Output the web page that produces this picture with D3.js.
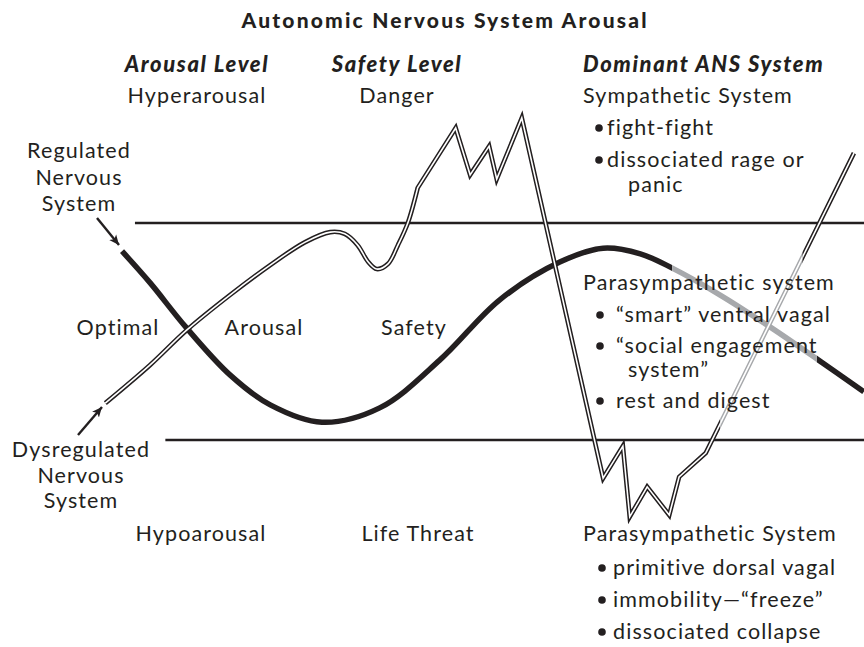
<!DOCTYPE html>
<html><head><meta charset="utf-8">
<script src="https://cdn.jsdelivr.net/npm/d3@7"></script>
<style>body{margin:0;background:#fff}svg{display:block}text{font-family:Lato,"Open Sans",sans-serif;fill:#231f20}</style>
</head><body>
<svg id="c" width="864" height="647"></svg>
<script>
// ---- data (x: time 0-100, y: arousal 0-100; window of tolerance 25-75) ----
const thresholds = [25, 75];
const regulated = [[2.9,68.5],[6.6,61.2],[11.3,51.0],[17.1,40.0],[22.4,33.1],[29.2,29.1],[36.8,32.4],[44.7,43.4],[52.6,57.3],[60.5,66.0],[66.2,69.2],[71.1,67.9],[75.3,64.6],[81.6,58.4],[88.2,51.0],[94.3,43.7],[100.5,36.1]];
const dysregSmooth = [[0.7,33.5],[6.6,42.3],[11.4,50.3],[17.1,58.4],[22.4,65.3],[27.0,70.6],[30.3,72.9],[32.2,72.5],[33.9,69.9],[35.3,66.0],[36.4,64.4],[37.9,65.6],[39.2,69.9],[40.5,75.0],[41.8,83.1]];
const dysregJagged = [[41.8,83.1],[46.8,96.9],[48.7,86.1],[51.2,92.7],[52.2,85.1],[55.5,99.2],[66.2,16.2],[68.8,23.6],[69.7,7.3],[72.0,14.2],[74.9,7.7],[76.2,16.5],[79.7,22.0],[99.2,91.1]];
const title = "Autonomic Nervous System Arousal";
const headers = ["Arousal Level", "Safety Level", "Dominant ANS System"];
const topRow = ["Hyperarousal", "Danger", "Sympathetic System"];
const midRow = ["Optimal", "Arousal", "Safety"];
const bottomRow = ["Hypoarousal", "Life Threat", "Parasympathetic System"];
const sympBullets = [["fight-fight"], ["dissociated rage or", "panic"]];
const ventralHead = "Parasympathetic system";
const ventralBullets = [["\u201csmart\u201d ventral vagal"], ["\u201csocial engagement", "system\u201d"], ["rest and digest"]];
const dorsalBullets = [["primitive dorsal vagal"], ["immobility\u2014\u201cfreeze\u201d"], ["dissociated collapse"]];
const regLabel = ["Regulated", "Nervous", "System"];
const dysLabel = ["Dysregulated", "Nervous", "System"];

// ---- drawing ----
const svg = d3.select("#c");
const W = 864;
const x = d3.scaleLinear().domain([0, 100]).range([100, 860]);
const y = d3.scaleLinear().domain([0, 100]).range([548.5, 114.5]);
const ink = "#231f20", gray = "#a7a9ac";

const defs = svg.append("defs");
function clipPair(id, x0, x1) {
  defs.append("clipPath").attr("id", id + "In").append("rect")
    .attr("x", x(x0)).attr("y", 0).attr("width", x(x1) - x(x0)).attr("height", 647);
  const o = defs.append("clipPath").attr("id", id + "Out");
  o.append("rect").attr("x", 0).attr("y", 0).attr("width", x(x0)).attr("height", 647);
  o.append("rect").attr("x", x(x1)).attr("y", 0).attr("width", W - x(x1)).attr("height", 647);
}
clipPair("reg", 75.3, 94.3);
clipPair("dys", 81.6, 92.4);
defs.append("marker").attr("id", "ah").attr("viewBox", "0 0 10 10").attr("refX", 10).attr("refY", 5)
  .attr("markerWidth", 10).attr("markerHeight", 10).attr("markerUnits", "userSpaceOnUse").attr("orient", "auto")
  .append("path").attr("d", "M0,0.5 L10,5 L0,9.5 L2.5,5 Z").attr("fill", ink);

// threshold lines
const thStart = [8.6, 4.6];
thresholds.forEach((t, i) => {
  svg.append("line").attr("x1", x(thStart[i])).attr("x2", W).attr("y1", y(t)).attr("y2", y(t))
    .attr("stroke", ink).attr("stroke-width", 2.6);
});

// regulated (thick) curve
const lineSmooth = d3.line().x(d => x(d[0])).y(d => y(d[1])).curve(d3.curveCatmullRom.alpha(0.5));
const lineStraight = d3.line().x(d => x(d[0])).y(d => y(d[1]));
const regD = lineSmooth(regulated);
svg.append("path").attr("d", regD).attr("fill", "none").attr("stroke", ink).attr("stroke-width", 5.5).attr("clip-path", "url(#regOut)");
svg.append("path").attr("d", regD).attr("fill", "none").attr("stroke", gray).attr("stroke-width", 5.5).attr("clip-path", "url(#regIn)");

// dysregulated (double) line
const dysD = lineSmooth(dysregSmooth) + lineStraight(dysregJagged).replace(/^M/, "L");
function dbl(color, clip) {
  const g = svg.append("g").attr("clip-path", `url(#${clip})`);
  g.append("path").attr("d", dysD).attr("fill", "none").attr("stroke", color).attr("stroke-width", 4.6).attr("stroke-linejoin", "miter").attr("stroke-miterlimit", 10);
  g.append("path").attr("d", dysD).attr("fill", "none").attr("stroke", "#fff").attr("stroke-width", 1.6).attr("stroke-linejoin", "miter").attr("stroke-miterlimit", 10);
}
dbl(ink, "dysOut");
dbl(gray, "dysIn");

// arrows
svg.append("line").attr("x1", 97).attr("y1", 218).attr("x2", 119).attr("y2", 245)
  .attr("stroke", ink).attr("stroke-width", 2.4).attr("marker-end", "url(#ah)");
svg.append("line").attr("x1", 78).attr("y1", 435).attr("x2", 102).attr("y2", 407)
  .attr("stroke", ink).attr("stroke-width", 2.4).attr("marker-end", "url(#ah)");

// texts
const FS = 21.5, LS = 1.1;
function txt(s, tx, ty, anchor, opts = {}) {
  return svg.append("text").attr("x", tx).attr("y", ty).attr("text-anchor", anchor || "start")
    .attr("font-size", opts.size || FS).attr("font-weight", opts.weight || 400)
    .attr("letter-spacing", opts.ls != null ? opts.ls : LS)
    .attr("font-style", opts.style || "normal").text(s);
}
txt(title, 444, 28, "middle", {size: 21, weight: 900, ls: 0})
  .attr("textLength", 405).attr("lengthAdjust", "spacing");
const colX = [197, 397, 583], colA = ["middle", "middle", "start"];
headers.forEach((h, i) => txt(h, colX[i], 72, colA[i], {size: 22, weight: 900, style: "italic", ls: 1.6}));
topRow.forEach((h, i) => txt(h, colX[i], 103, colA[i]));
const midX = [118, 264, 414];
midRow.forEach((h, i) => txt(h, midX[i], 335, "middle"));
const botX = [201, 418, 583], botA = ["middle", "middle", "start"];
bottomRow.forEach((h, i) => txt(h, botX[i], 541, botA[i]));

function bullets(list, bx, tx, y0, step, contStep, indent) {
  let yy = y0;
  list.forEach(item => {
    svg.append("circle").attr("cx", bx).attr("cy", yy - 7).attr("r", 3.8).attr("fill", ink);
    item.forEach((ln, j) => {
      if (j > 0) yy += contStep;
      txt(ln, j ? tx + indent : tx, yy, "start");
    });
    yy += step;
  });
}
bullets(sympBullets, 599, 607, 135, 32, 25, 21);
txt(ventralHead, 583, 290, "start");
bullets(ventralBullets, 600, 616, 322, 31, 24, 12);
bullets(dorsalBullets, 602, 613, 575, 32, 0, 0);

regLabel.forEach((s, i) => txt(s, 79, [158, 185, 211][i], "middle"));
dysLabel.forEach((s, i) => txt(s, 81, [457, 483, 508][i], "middle"));
</script>
</body></html>
